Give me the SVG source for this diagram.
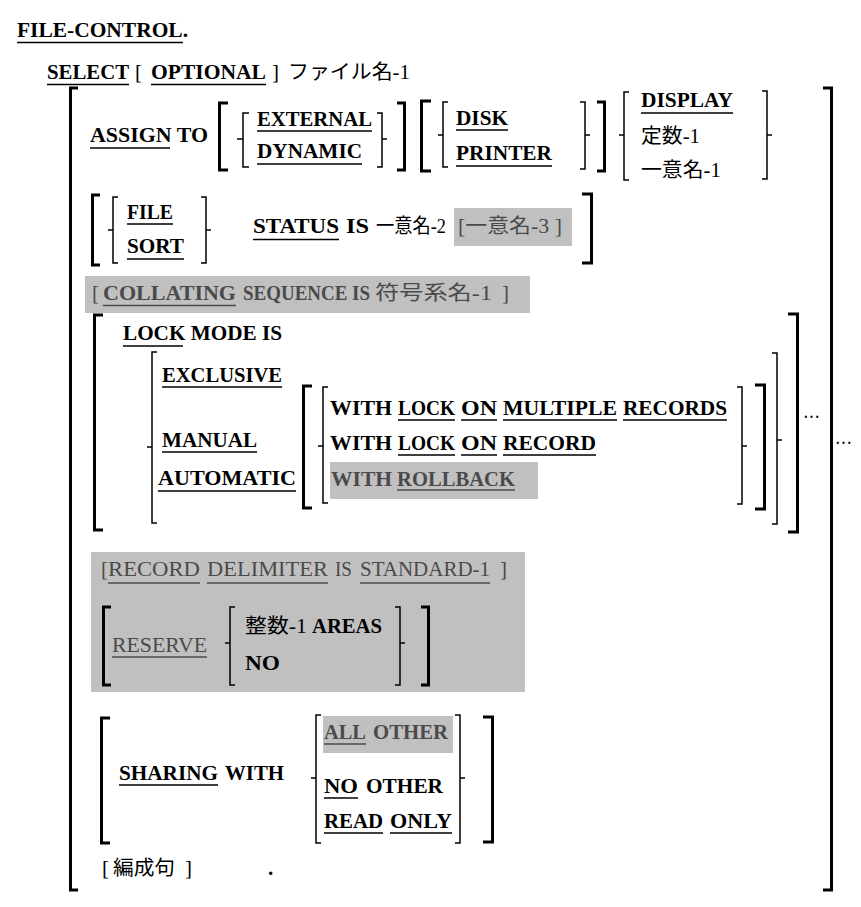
<svg xmlns="http://www.w3.org/2000/svg" width="861" height="907" viewBox="0 0 861 907">
<style>
text{font-family:"Liberation Serif","Times New Roman","DejaVu Serif","Noto Sans CJK JP",serif;font-size:21px;fill:#000}
.k{font-weight:bold}
.j{font-size:20px;font-weight:normal}
.g{fill:#4a4a4a}
.ul{stroke:#000;stroke-width:1.4;fill:none}
.ulg{stroke:#4a4a4a;stroke-width:1.4;fill:none}
.bb{stroke:#000;stroke-width:3;fill:none}
.tb{stroke:#000;stroke-width:1.5;fill:none}
.hl{fill:#c0c0c0}
</style>
<rect width="861" height="907" fill="#fff"/>

<g id="header">
<text class="k" x="17" y="37" textLength="171" lengthAdjust="spacingAndGlyphs">FILE-CONTROL.</text>
<line class="ul" x1="17" y1="42.5" x2="183" y2="42.5"/>
<text class="k" x="47" y="79" textLength="82" lengthAdjust="spacingAndGlyphs">SELECT</text>
<line class="ul" x1="47" y1="84.5" x2="129" y2="84.5"/>
<text x="135" y="79">[</text>
<text class="k" x="151" y="79" textLength="115" lengthAdjust="spacingAndGlyphs">OPTIONAL</text>
<line class="ul" x1="151" y1="84.5" x2="266" y2="84.5"/>
<text x="272" y="79">]</text>
<text class="j" x="288" y="79" textLength="122" lengthAdjust="spacingAndGlyphs">ファイル名-1</text>
</g>

<g id="outer-brackets">
<path class="bb" d="M78,88 H70.5 V890 H78"/>
<path class="bb" d="M823,88 H831.5 V890 H823"/>
</g>

<g id="assign">
<text class="k" x="90" y="142" textLength="118" lengthAdjust="spacingAndGlyphs">ASSIGN TO</text>
<line class="ul" x1="90" y1="148" x2="170" y2="148"/>
<path class="bb" d="M228,103 H219.5 V170 H228"/>
<path class="tb" d="M249,113 H243 V167 H249 M243,139 H237"/>
<text class="k" x="257" y="126" textLength="115" lengthAdjust="spacingAndGlyphs">EXTERNAL</text>
<line class="ul" x1="257" y1="131" x2="372" y2="131"/>
<text class="k" x="257" y="158" textLength="105" lengthAdjust="spacingAndGlyphs">DYNAMIC</text>
<line class="ul" x1="257" y1="164" x2="362" y2="164"/>
<path class="tb" d="M377,113 H382 V167 H377 M382,139 H387"/>
<path class="bb" d="M397,103 H404.5 V170 H397"/>
<path class="bb" d="M431,101 H421.5 V171 H431"/>
<path class="tb" d="M448,102 H443 V167 H448 M443,135 H438"/>
<text class="k" x="456" y="125" textLength="52" lengthAdjust="spacingAndGlyphs">DISK</text>
<line class="ul" x1="456" y1="130" x2="508" y2="130"/>
<text class="k" x="456" y="160" textLength="96" lengthAdjust="spacingAndGlyphs">PRINTER</text>
<line class="ul" x1="456" y1="166" x2="552" y2="166"/>
<path class="tb" d="M580,102 H585 V169 H580 M585,135 H590"/>
<path class="bb" d="M597,102 H604.5 V171 H597"/>
<path class="tb" d="M629,92 H624 V180 H629 M624,135 H619"/>
<text class="k" x="641" y="107" textLength="92" lengthAdjust="spacingAndGlyphs">DISPLAY</text>
<line class="ul" x1="641" y1="113" x2="733" y2="113"/>
<text class="j" x="641" y="143" textLength="59" lengthAdjust="spacingAndGlyphs">定数-1</text>
<text class="j" x="641" y="177" textLength="80" lengthAdjust="spacingAndGlyphs">一意名-1</text>
<path class="tb" d="M762,91 H767 V179 H762 M767,135 H772"/>
</g>

<g id="status">
<path class="bb" d="M100,195 H92.5 V265 H100"/>
<path class="tb" d="M118,197 H113 V263 H118 M113,230 H108"/>
<text class="k" x="127" y="219" textLength="46" lengthAdjust="spacingAndGlyphs">FILE</text>
<line class="ul" x1="127" y1="224" x2="173" y2="224"/>
<text class="k" x="127" y="253" textLength="57" lengthAdjust="spacingAndGlyphs">SORT</text>
<line class="ul" x1="127" y1="259" x2="184" y2="259"/>
<path class="tb" d="M201,197 H206 V263 H201 M206,230 H211"/>
<text class="k" x="253" y="233" textLength="86" lengthAdjust="spacingAndGlyphs">STATUS</text>
<text class="k" x="346" y="233" textLength="23" lengthAdjust="spacingAndGlyphs">IS</text>
<line class="ul" x1="253" y1="239.5" x2="339" y2="239.5"/>
<text class="j" x="376" y="233" textLength="70" lengthAdjust="spacingAndGlyphs">一意名-2</text>
<rect class="hl" x="454" y="208" width="118" height="38"/>
<text class="j g" x="458" y="233" textLength="104" lengthAdjust="spacingAndGlyphs">[一意名-3 ]</text>
<path class="bb" d="M582,194 H591.5 V263 H582"/>
</g>

<g id="collating">
<rect class="hl" x="85" y="276" width="445" height="37"/>
<text class="g" x="92" y="300">[</text>
<text class="k g" x="103" y="300" textLength="133" lengthAdjust="spacingAndGlyphs">COLLATING</text>
<line class="ulg" x1="103" y1="305.5" x2="236" y2="305.5"/>
<text class="k g" x="243" y="300" textLength="127" lengthAdjust="spacingAndGlyphs">SEQUENCE IS</text>
<text class="j g" x="375" y="300" textLength="117" lengthAdjust="spacingAndGlyphs">符号系名-1</text>
<text class="g" x="502" y="300">]</text>
</g>

<g id="lock-mode">
<path class="bb" d="M103,315 H94.5 V530 H103"/>
<text class="k" x="123" y="340" textLength="159" lengthAdjust="spacingAndGlyphs">LOCK MODE IS</text>
<line class="ul" x1="123" y1="346" x2="183" y2="346"/>
<path class="tb" d="M157,352 H152 V523 H157 M152,447 H147"/>
<text class="k" x="162" y="382" textLength="120" lengthAdjust="spacingAndGlyphs">EXCLUSIVE</text>
<line class="ul" x1="162" y1="387" x2="282" y2="387"/>
<text class="k" x="162" y="447" textLength="95" lengthAdjust="spacingAndGlyphs">MANUAL</text>
<line class="ul" x1="162" y1="452" x2="257" y2="452"/>
<text class="k" x="158" y="485" textLength="138" lengthAdjust="spacingAndGlyphs">AUTOMATIC</text>
<line class="ul" x1="158" y1="491" x2="296" y2="491"/>
<path class="bb" d="M312,386 H303.5 V508 H312"/>
<path class="tb" d="M328,387 H323 V503 H328 M323,446 H318"/>
<text class="k" x="330" y="415" textLength="62" lengthAdjust="spacingAndGlyphs">WITH</text>
<text class="k" x="398" y="415" textLength="57" lengthAdjust="spacingAndGlyphs">LOCK</text>
<text class="k" x="461" y="415" textLength="36" lengthAdjust="spacingAndGlyphs">ON</text>
<text class="k" x="503" y="415" textLength="114" lengthAdjust="spacingAndGlyphs">MULTIPLE</text>
<text class="k" x="623" y="415" textLength="104" lengthAdjust="spacingAndGlyphs">RECORDS</text>
<path class="ul" d="M398,420 H455 M461,420 H497 M503,420 H617 M623,420 H727"/>
<text class="k" x="330" y="450" textLength="62" lengthAdjust="spacingAndGlyphs">WITH</text>
<text class="k" x="398" y="450" textLength="57" lengthAdjust="spacingAndGlyphs">LOCK</text>
<text class="k" x="461" y="450" textLength="36" lengthAdjust="spacingAndGlyphs">ON</text>
<text class="k" x="503" y="450" textLength="93" lengthAdjust="spacingAndGlyphs">RECORD</text>
<path class="ul" d="M398,455 H455 M461,455 H497 M503,455 H596"/>
<rect class="hl" x="330" y="462" width="208" height="37"/>
<text class="k g" x="331" y="486" textLength="61" lengthAdjust="spacingAndGlyphs">WITH</text>
<text class="k g" x="397" y="486" textLength="118" lengthAdjust="spacingAndGlyphs">ROLLBACK</text>
<line class="ulg" x1="397" y1="490" x2="515" y2="490"/>
<path class="tb" d="M737,387 H742 V504 H737 M742,446 H747"/>
<path class="bb" d="M755,385 H764.5 V509 H755"/>
<path class="tb" d="M772,353 H777 V524 H772 M777,440 H782"/>
<text x="803" y="418" textLength="17" lengthAdjust="spacingAndGlyphs">…</text>
<path class="bb" d="M788,314 H797.5 V532 H788"/>
</g>

<g id="outer-ellipsis">
<text x="835" y="444" textLength="17" lengthAdjust="spacingAndGlyphs">…</text>
</g>

<g id="record-delimiter">
<rect class="hl" x="91" y="552" width="434" height="140"/>
<text class="g" x="101" y="576">[</text>
<text class="g" x="108" y="576" textLength="92" lengthAdjust="spacingAndGlyphs">RECORD</text>
<text class="g" x="207" y="576" textLength="121" lengthAdjust="spacingAndGlyphs">DELIMITER</text>
<text class="g" x="335" y="576" textLength="17" lengthAdjust="spacingAndGlyphs">IS</text>
<text class="g" x="360" y="576" textLength="130" lengthAdjust="spacingAndGlyphs">STANDARD-1</text>
<text class="g" x="500" y="576">]</text>
<path class="ulg" d="M108,583 H200 M207,583 H328 M360,583 H490"/>
<path class="bb" d="M111,607 H103.5 V685 H111"/>
<text class="g" x="112" y="652" textLength="95" lengthAdjust="spacingAndGlyphs">RESERVE</text>
<line class="ulg" x1="112" y1="657" x2="207" y2="657"/>
<path class="tb" d="M235,607 H230 V685 H235 M230,643 H225"/>
<text class="j" x="245" y="633" textLength="62" lengthAdjust="spacingAndGlyphs">整数-1</text>
<text class="k" x="312" y="633" textLength="70" lengthAdjust="spacingAndGlyphs">AREAS</text>
<text class="k" x="245" y="670" textLength="35" lengthAdjust="spacingAndGlyphs">NO</text>
<path class="tb" d="M395,607 H400 V685 H395 M400,643 H405"/>
<path class="bb" d="M421,607 H428.5 V685 H421"/>
</g>

<g id="sharing">
<path class="bb" d="M110,718 H101.5 V843 H110"/>
<text class="k" x="119" y="780" textLength="99" lengthAdjust="spacingAndGlyphs">SHARING</text>
<line class="ul" x1="119" y1="785" x2="218" y2="785"/>
<text class="k" x="225" y="780" textLength="59" lengthAdjust="spacingAndGlyphs">WITH</text>
<path class="tb" d="M321,715 H316 V843 H321 M316,778 H311"/>
<rect class="hl" x="323" y="716" width="130" height="37"/>
<text class="k g" x="324" y="739" textLength="42" lengthAdjust="spacingAndGlyphs">ALL</text>
<text class="k g" x="373" y="739" textLength="75" lengthAdjust="spacingAndGlyphs">OTHER</text>
<line class="ulg" x1="324" y1="744" x2="366" y2="744"/>
<text class="k" x="324" y="793" textLength="34" lengthAdjust="spacingAndGlyphs">NO</text>
<text class="k" x="366" y="793" textLength="77" lengthAdjust="spacingAndGlyphs">OTHER</text>
<line class="ul" x1="324" y1="798" x2="358" y2="798"/>
<text class="k" x="324" y="828" textLength="59" lengthAdjust="spacingAndGlyphs">READ</text>
<text class="k" x="390" y="828" textLength="62" lengthAdjust="spacingAndGlyphs">ONLY</text>
<path class="ul" d="M324,833 H383 M390,833 H452"/>
<path class="tb" d="M455,715 H460 V843 H455 M460,778 H465"/>
<path class="bb" d="M483,717 H492.5 V842 H483"/>
</g>

<g id="organization">
<text x="102" y="875">[</text>
<text class="j" x="113" y="875" textLength="62" lengthAdjust="spacingAndGlyphs">編成句</text>
<text x="185" y="875">]</text>
<text class="k" x="268" y="875">.</text>
</g>
</svg>
